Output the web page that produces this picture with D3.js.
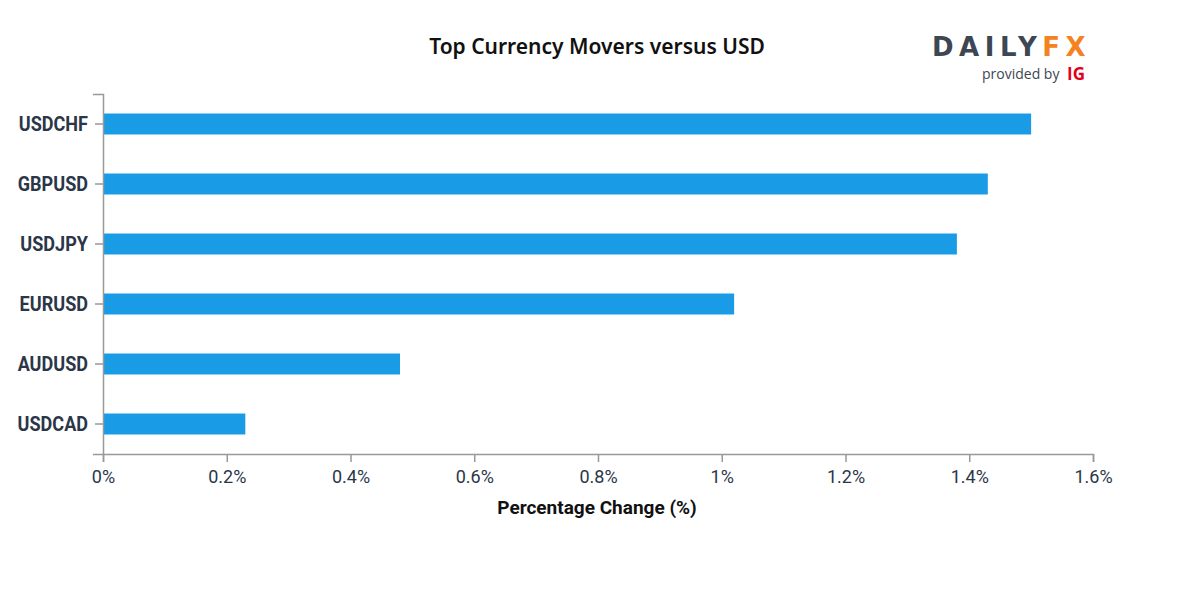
<!DOCTYPE html>
<html><head><meta charset="utf-8">
<script src="https://cdn.jsdelivr.net/npm/d3@7"></script>
<style>body{margin:0;background:#fff}svg{display:block}</style>
</head><body>
<svg id="c" width="1200" height="600"></svg>
<script>
const categories = ["USDCHF","GBPUSD","USDJPY","EURUSD","AUDUSD","USDCAD"];
const values = [1.50, 1.43, 1.38, 1.02, 0.48, 0.23];
const xTicks = [0, 0.2, 0.4, 0.6, 0.8, 1.0, 1.2, 1.4, 1.6];

const svg = d3.select("#c");
const m = {left:103, right:1093, top:94, bottom:454};
const x = d3.scaleLinear().domain([0,1.6]).range([m.left, m.right]);
const y = d3.scaleBand().domain(categories).range([m.top, m.bottom]).paddingInner(0.65).paddingOuter(0.325);

svg.append("text").attr("x",597).attr("y",54).attr("text-anchor","middle")
  .style("font-family","'Noto Sans'").style("font-weight",600).style("font-size","21px").attr("fill","#111")
  .text("Top Currency Movers versus USD");

// bars
svg.append("g").selectAll("rect").data(categories).join("rect")
  .attr("x", x(0)).attr("y", d=>y(d)).attr("height", y.bandwidth())
  .attr("width", (d,i)=>x(values[i])-x(0)).attr("fill","#1a9be6");

// y axis
const ya = svg.append("g").attr("transform",`translate(${m.left},0)`)
  .call(d3.axisLeft(y).tickSize(8).tickSizeOuter(10));
ya.select(".domain").attr("stroke","#999").attr("stroke-width",1.5);
ya.selectAll(".tick line").attr("stroke","#999").attr("stroke-width",1.5);
ya.selectAll(".tick text").attr("x",0).attr("dy","0.35em")
  .attr("transform","translate(-15,0) scale(0.86,1)")
  .style("font-family","Roboto").style("font-weight",700)
  .style("font-size","21px").attr("fill","#2b3648");

// x axis
const xa = svg.append("g").attr("transform",`translate(0,${m.bottom})`)
  .call(d3.axisBottom(x).tickValues(xTicks).tickFormat(d=>d3.format("~g")(+d.toFixed(1))+"%").tickSize(8).tickSizeOuter(8));
xa.select(".domain").attr("stroke","#999").attr("stroke-width",1.5);
xa.selectAll(".tick line").attr("stroke","#999").attr("stroke-width",1.5);
xa.selectAll(".tick text").attr("y",16).style("font-family","Roboto").style("font-weight",400)
  .style("font-size","18px").attr("fill","#2b3648");

svg.append("text").attr("x",597).attr("y",514).attr("text-anchor","middle")
  .style("font-family","Roboto").style("font-weight",700).style("font-size","19px").attr("fill","#111")
  .text("Percentage Change (%)");

// logo
const lg = svg.append("g");
lg.append("text").attr("x",932).attr("y",56).style("font-family","'DejaVu Sans'").style("font-weight",700)
  .style("font-size","26px").style("letter-spacing","5.5px")
  .html('<tspan fill="#3d4653">DAILY</tspan><tspan fill="#f58220">FX</tspan>');
lg.append("text").attr("x",982).attr("y",79).style("font-family","'Open Sans'")
  .style("font-size","14px").attr("fill","#3d4653").text("provided by");
lg.append("text").attr("x",1067).attr("y",80).style("font-family","'Open Sans'").style("font-weight",700)
  .style("font-size","17px").attr("fill","#e2001a").text("IG");
</script>
</body></html>
